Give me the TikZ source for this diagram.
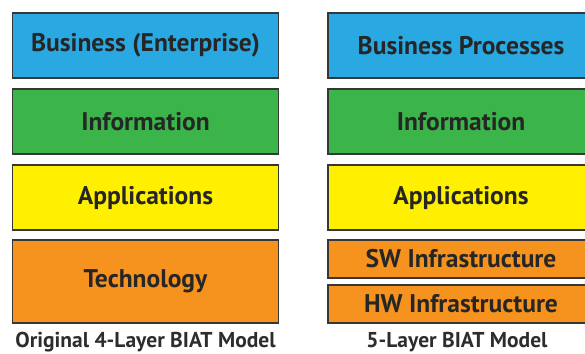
\documentclass[tikz,border=0pt]{standalone}
\usepackage{fontspec}
\usepackage{xcolor}
\usepackage{tikz}
\usetikzlibrary{positioning}
\newfontfamily\biatfont{PT Sans}
\definecolor{bizblue}{RGB}{41,168,226}
\definecolor{infogreen}{RGB}{59,180,74}
\definecolor{appyellow}{RGB}{255,240,0}
\definecolor{techorange}{RGB}{246,146,30}
\definecolor{edgegray}{RGB}{55,55,55}
\definecolor{textgray}{RGB}{45,45,45}

\begin{document}
\begin{tikzpicture}[
    x=1pt, y=-1pt,
    layer/.style={draw=edgegray, line width=1.3pt, minimum width=266pt, minimum height=65pt, inner sep=0pt, text=black!85, font=\biatfont\bfseries\fontsize{25.5}{30}\selectfont},
    caption/.style={text=textgray, font=\biatfont\bfseries\fontsize{21.5}{26}\selectfont}
]
    \useasboundingbox (0,0) rectangle (585,353);
    \clip (0,0) rectangle (585,353);

    % original four layers
    \node[layer, fill=bizblue] (bizL) at (145.5,45.5) {Business (Enterprise)};
    \node[layer, fill=infogreen] (infoL) at (145.5,121.5) {Information};
    \node[layer, fill=appyellow] (appL) at (145.5,197.5) {Applications};
    \node[layer, fill=techorange, minimum height=83pt] (techL) at (145.5,281.5) {Technology};
    \node[caption] (capL) at (145.5,342) {Original 4-Layer BIAT Model};

    % five layers, technology split in two
    \node[layer, fill=bizblue] (bizR) at (461,45.5) {Business Processes};
    \node[layer, fill=infogreen] (infoR) at (461,121.5) {Information};
    \node[layer, fill=appyellow] (appR) at (461,197.5) {Applications};
    \node[layer, fill=techorange, minimum height=38pt] (swR) at (461,259) {SW Infrastructure};
    \node[layer, fill=techorange, minimum height=38pt] (hwR) at (461,304) {HW Infrastructure};
    \node[caption] (capR) at (457,342) {5-Layer BIAT Model};
\end{tikzpicture}
\end{document}
